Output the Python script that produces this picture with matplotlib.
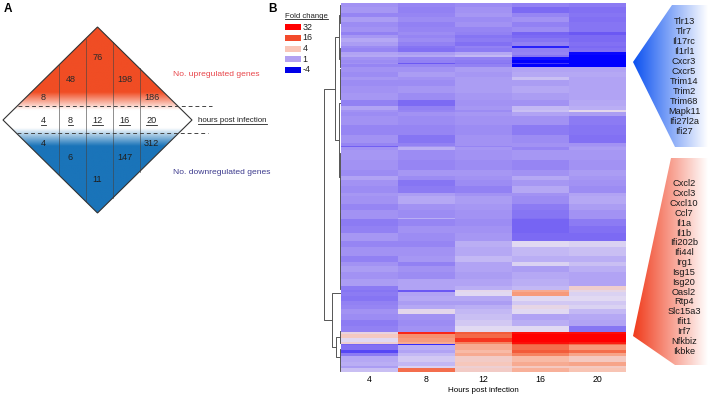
import numpy as np
import matplotlib
matplotlib.use('Agg')
import matplotlib.pyplot as plt
from matplotlib.colors import LinearSegmentedColormap, to_rgb
from matplotlib.patches import Polygon, Rectangle

plt.rcParams['font.family'] = ['Liberation Sans', 'DejaVu Sans']
NARROW = ['Liberation Sans Narrow', 'Liberation Sans', 'DejaVu Sans']

# ---------------- data ----------------
hours = [4, 8, 12, 16, 20]
up_counts = [8, 48, 76, 198, 186]
down_counts = [4, 6, 11, 147, 312]

legend_labels = ['32', '16', '4', '1', '-4']
legend_colors = ['#ff0000', '#f34b2c', '#f9c6b8', '#b3a1f1', '#0000e8']

down_genes = ['Tlr13', 'Tlr7', 'Il17rc', 'Il1rl1', 'Cxcr3', 'Cxcr5', 'Trim14',
              'Trim2', 'Trim68', 'Mapk11', 'Ifi27l2a', 'Ifi27']
up_genes = ['Cxcl2', 'Cxcl3', 'Cxcl10', 'Ccl7', 'Il1a', 'Il1b', 'Ifi202b', 'Ifi44l',
            'Irg1', 'Isg15', 'Isg20', 'Oasl2', 'Rtp4', 'Slc15a3', 'Ifit1', 'Irf7',
            'Nfkbiz', 'Ikbke']

# heatmap: blocks of genes (row counts) and log2 fold change at 4,8,12,16,20 h
band_rows = [4, 6, 4, 5, 5, 5, 3, 3, 4, 4, 2, 4, 3, 2, 3, 3, 1, 3,
             5, 5, 3, 6, 7, 7, 6, 4, 2, 4, 9, 10, 8, 3, 1, 3, 10, 10, 6, 4, 6,
             7, 3, 8, 6, 8, 1, 7, 7, 8, 6, 9, 6, 4, 6, 7,
             7, 4, 2, 4, 5, 4, 4, 5, 6, 6, 6,
             2, 4, 4, 2, 1, 5, 3, 3, 6, 4, 2, 4]
band_values = [
    [0.0, -0.2, -0.1, -0.3, -0.4], [0.1, -0.3, 0.0, -0.7, -0.6],
    [-0.2, -0.2, 0.1, -0.2, -0.5], [0.2, -0.1, -0.1, 0.0, -0.6],
    [-0.1, -0.3, 0.0, -0.3, -0.5], [0.0, -0.2, -0.2, -0.1, -0.5],
    [-0.3, -0.1, -0.3, -0.8, -1.0], [0.1, -0.2, -0.5, -0.7, -0.7],
    [0.4, -0.1, -0.4, -0.5, -0.7], [0.2, -0.3, -0.6, -0.3, -0.6],
    [-0.1, -0.5, -0.3, -1.6, -0.7], [-0.2, -0.6, -0.4, -0.3, -0.6],
    [0.3, 0.2, 0.4, -0.2, -1.9], [0.4, 0.4, 0.6, -0.5, -2.0],
    [0.0, -0.2, -0.3, -1.8, -2.0], [-0.1, -0.3, -0.4, -2.0, -2.0],
    [0.0, -1.0, -0.5, -1.4, -2.0], [-0.2, -0.2, -0.3, -2.0, -2.0],
    [0.0, 0.0, 0.2, 0.3, 0.3], [-0.1, 0.2, 0.1, 0.4, 0.4],
    [0.1, 0.0, 0.2, 0.7, 0.3], [-0.1, -0.1, 0.2, 0.2, 0.3],
    [0.0, 0.1, 0.2, 0.4, 0.3], [0.1, -0.1, 0.1, 0.2, 0.3],
    [-0.3, -0.7, 0.0, 0.0, 0.4], [0.3, -0.3, 0.1, 0.6, 0.5],
    [0.0, -0.2, -0.1, 0.7, 1.1], [-0.1, 0.0, 0.1, 0.3, 0.2],
    [0.0, -0.1, 0.0, 0.0, -0.4], [-0.2, -0.2, -0.1, -0.4, -0.5],
    [0.0, -0.5, 0.0, -0.1, -0.6], [-0.2, -0.3, 0.0, 0.0, 0.0],
    [-0.9, 0.0, -0.2, 0.0, 0.1], [0.0, 0.5, 0.1, -0.2, 0.2],
    [0.1, -0.1, 0.0, 0.1, 0.1], [0.0, -0.2, -0.1, -0.2, 0.0],
    [-0.1, 0.1, 0.1, 0.0, 0.2], [0.3, -0.1, 0.0, 0.4, 0.1],
    [0.0, -0.5, -0.1, 0.1, 0.0],
    [-0.1, -0.4, -0.3, 0.4, -0.1], [0.1, 0.2, 0.0, 0.0, 0.3],
    [0.0, 0.4, 0.2, -0.1, 0.4], [-0.2, 0.0, 0.1, -0.4, 0.2],
    [0.0, -0.1, 0.0, -0.5, 0.0], [0.0, 0.5, 0.0, -0.6, 0.0],
    [-0.4, -0.2, -0.1, -0.8, -0.4], [-0.3, 0.0, 0.0, -0.8, -0.6],
    [0.1, -0.1, 0.1, -0.7, -0.7], [-0.2, -0.2, 0.5, 1.0, 0.9],
    [0.0, 0.0, 0.4, 0.6, 0.7], [-0.3, 0.1, 0.6, 0.5, 0.5],
    [0.0, -0.3, 0.3, 0.9, 0.7], [0.2, 0.0, 0.3, 0.2, 0.5],
    [0.0, -0.1, 0.2, 0.4, 0.3],
    [0.2, 0.3, 0.3, 0.5, 0.3], [-0.4, 0.3, 0.5, 0.6, 1.6],
    [-0.5, -1.0, 1.1, 2.5, 1.2], [-0.4, 0.3, 1.0, 2.8, 0.9],
    [-0.5, 0.4, 0.4, 1.0, 1.0], [-0.3, 0.2, 0.2, 0.8, 0.8],
    [-0.2, 0.4, 0.5, 1.2, 0.9], [0.0, 1.1, 0.6, 1.0, 0.6],
    [-0.1, 0.0, 0.7, 0.3, 0.4], [-0.4, -0.1, 0.8, 0.5, 0.3],
    [-0.3, 0.0, 1.0, 1.0, -0.5],
    [1.3, 4.5, 3.8, 4.8, 4.8], [1.8, 3.0, 3.6, 5.0, 5.0],
    [1.0, 2.8, 4.3, 5.0, 5.0], [1.5, 2.5, 3.2, 4.8, 4.6],
    [-0.8, -1.5, 2.5, 3.8, 3.5], [-0.6, 0.5, 2.5, 3.5, 2.8],
    [-1.2, 0.3, 2.2, 3.8, 3.5], [-0.4, 0.6, 2.5, 3.2, 2.6],
    [0.4, 0.8, 1.7, 2.2, 1.8], [0.5, 0.6, 1.9, 2.5, 2.6],
    [0.2, 0.9, 1.5, 1.8, 1.8], [0.7, 3.5, 1.7, 2.4, 2.0],
]

# dendrogram (row positions, merge heights)
dendro_small = [(2, 20, 1.2), (12, 56, 2.0), (45, 64, 1.0), (66, 96, 1.0),
                (100, 174, 1.8), (150, 200, 0.8), (178, 286, 1.3),
                (210, 270, 0.9), (328, 340, 1.2), (346, 362, 1.5), (362, 368, 0.8)]
dendro_links = [(34, 2.0, 137, 1.8, 6.0),        # upper cluster
                (334, 1.2, 354, 1.5, 5.0),       # lower sub-cluster
                (290, 0.0, 344, 5.0, 9.0),       # lower cluster
                (85.5, 6.0, 317, 9.0, 17.0)]     # root

# ---------------- figure ----------------
W, H = 708, 396
fig = plt.figure(figsize=(W / 100, H / 100), dpi=100)
bg = fig.add_axes([0, 0, 1, 1])
bg.set_autoscale_on(False)
bg.set_xlim(0, W)
bg.set_ylim(H, 0)
bg.axis('off')

red = np.array(to_rgb('#f04d24'))
blue = np.array(to_rgb('#1a74b9'))
white = np.ones(3)

# ---- panel A: diamond ----
cx, cy, hw, hh = 97.5, 120.0, 94.5, 93.0
diamond = Polygon([(cx, cy - hh), (cx + hw, cy), (cx, cy + hh), (cx - hw, cy)],
                  closed=True, facecolor='none', edgecolor='#333333', lw=0.8, zorder=5)
bg.add_patch(diamond)
ys = np.linspace(cy - hh, cy + hh, 500)
img = np.zeros((len(ys), 1, 3))
for i, y in enumerate(ys):
    if y < 92:
        c = red
    elif y < 110:
        t = (y - 92) / 18
        c = red * (1 - t) + white * t
    elif y < 128:
        c = white
    elif y < 146:
        t = (y - 128) / 18
        c = white * (1 - t) + blue * t
    else:
        c = blue
    img[i, 0] = c
im = bg.imshow(img, extent=[cx - hw, cx + hw, cy + hh, cy - hh], aspect='auto',
               interpolation='bilinear', zorder=1)
im.set_clip_path(diamond)

step = 27.0
col_x = [cx + (i - 2) * step for i in range(5)]
for i in range(4):
    xb = cx + (i - 1.5) * step + 1.5
    dy = hh * (1 - abs(xb - cx) / hw)
    bg.plot([xb, xb], [cy - dy, cy + dy], color='#444444', lw=0.6, alpha=0.7, zorder=3)

bg.plot([18, 212], [106, 106], ls=(0, (4, 3)), color='#444444', lw=0.7, zorder=6)
bg.plot([17, 208], [133, 133], ls=(0, (4, 3)), color='#444444', lw=0.7, zorder=6)

up_y = [98, 80, 58, 80, 98]
dn_y = [143, 158, 180, 158, 143]
underline = []
for i in range(5):
    bg.text(col_x[i], up_y[i], str(up_counts[i]), ha='center', va='center',
            fontsize=6.6, color='#2b2b2b', zorder=7)
    bg.text(col_x[i], dn_y[i], str(down_counts[i]), ha='center', va='center',
            fontsize=6.6, color='#1f1f1f', zorder=7)
    underline.append(bg.text(col_x[i], 120.5, str(hours[i]), ha='center', va='center',
                             fontsize=6.6, color='#222222', zorder=7))

bg.text(173, 75, 'No. upregulated genes', fontsize=6.1, color='#e8464b',
        ha='left', va='center')
bg.text(173, 173, 'No. downregulated genes', fontsize=6.1, color='#3d3b8e',
        ha='left', va='center')
underline.append(bg.text(198, 121, 'hours post infection', fontsize=5.7,
                         color='#222222', ha='left', va='center'))

bg.text(4, 9, 'A', fontsize=8.5, fontweight='bold', ha='left', va='center')
bg.text(268, 9, 'B', fontsize=8.5, fontweight='bold', ha='left', va='center')

# ---- legend ----
underline.append(bg.text(285, 16, 'Fold change', fontsize=5.6, color='#222222',
                         ha='left', va='center'))
for i, (lab, col) in enumerate(zip(legend_labels, legend_colors)):
    yc = 27 + 10.75 * i
    bg.add_patch(Rectangle((285, yc - 3), 16, 6, facecolor=col, edgecolor='none'))
    bg.text(302.5, yc, lab, fontsize=6.4, ha='left', va='center', color='#222222')

# ---- gene wedges ----
def wedge(poly, color):
    p = Polygon(poly, closed=True, facecolor='none', edgecolor='none')
    bg.add_patch(p)
    c0 = np.array(to_rgb(color))
    n = 200
    g = np.zeros((1, n, 3))
    for k in range(n):
        t = k / (n - 1)
        g[0, k] = c0 * (1 - t) + white * t
    ys_ = [q[1] for q in poly]
    w = bg.imshow(g, extent=[633, 708, max(ys_), min(ys_)], aspect='auto',
                  interpolation='bilinear', zorder=1)
    w.set_clip_path(p)

wedge([(633, 62), (672, 5), (708, 5), (708, 147), (675, 147)], '#0a50f0')
wedge([(633, 336), (671, 158), (708, 158), (708, 365), (675, 365)], '#f03a1a')

for y, g in zip(np.linspace(21, 132, len(down_genes)), down_genes):
    bg.text(684, y, g, fontsize=6.7, family=NARROW, ha='center', va='center',
            color='#1a1a1a', zorder=4)
for y, g in zip(np.linspace(184, 351, len(up_genes)), up_genes):
    bg.text(684, y, g, fontsize=6.7, family=NARROW, ha='center', va='center',
            color='#1a1a1a', zorder=4)

# ---- heatmap ----
cmap = LinearSegmentedColormap.from_list('fc', [
    (0.0, '#0000ff'), (1 / 7, '#6d5af3'), (2 / 7, '#a292f3'), (2.5 / 7, '#bbaff5'),
    (3 / 7, '#e2daf2'), (4 / 7, '#f9c5b5'), (5 / 7, '#f7906e'), (6 / 7, '#f3502f'),
    (1.0, '#ff0000')])
mat = np.repeat(np.array(band_values), band_rows, axis=0)
nrows = mat.shape[0]
top_px, bot_px = 3, 372
hax = fig.add_axes([341 / W, 1 - bot_px / H, 285 / W, (bot_px - top_px) / H])
hax.imshow(mat, cmap=cmap, vmin=-2, vmax=5, aspect='auto', interpolation='nearest',
           extent=[0, 5, nrows, 0])
hax.set_xticks(np.arange(5) + 0.5)
hax.set_xticklabels([str(h) for h in hours], fontsize=6.3, family=NARROW)
hax.tick_params(length=0, pad=2)
hax.set_yticks([])
for s in hax.spines.values():
    s.set_visible(False)
hax.set_xlabel('Hours post infection', fontsize=5.8, family=NARROW, labelpad=2)

# ---- dendrogram ----
dax = fig.add_axes([318 / W, 1 - bot_px / H, 23 / W, (bot_px - top_px) / H])
dax.set_xlim(23, 0)
dax.set_ylim(nrows, 0)
dax.axis('off')
for t, b, h in dendro_small:
    dax.plot([0, h, h, 0], [t, t, b, b], color='#555555', lw=0.7)
for y1, h1, y2, h2, h in dendro_links:
    dax.plot([h1, h, h, h2], [y1, y1, y2, y2], color='#555555', lw=0.7)

# ---- underlines ----
fig.canvas.draw()
r = fig.canvas.get_renderer()
inv = bg.transData.inverted()
for t in underline:
    bb = t.get_window_extent(r)
    (x0, y0), (x1, _) = inv.transform([(bb.x0, bb.y0), (bb.x1, bb.y0)])
    bg.plot([x0, x1], [y0 - 0.5, y0 - 0.5], color='#222222', lw=0.6, zorder=7)

fig.savefig('out.png', dpi=100)
